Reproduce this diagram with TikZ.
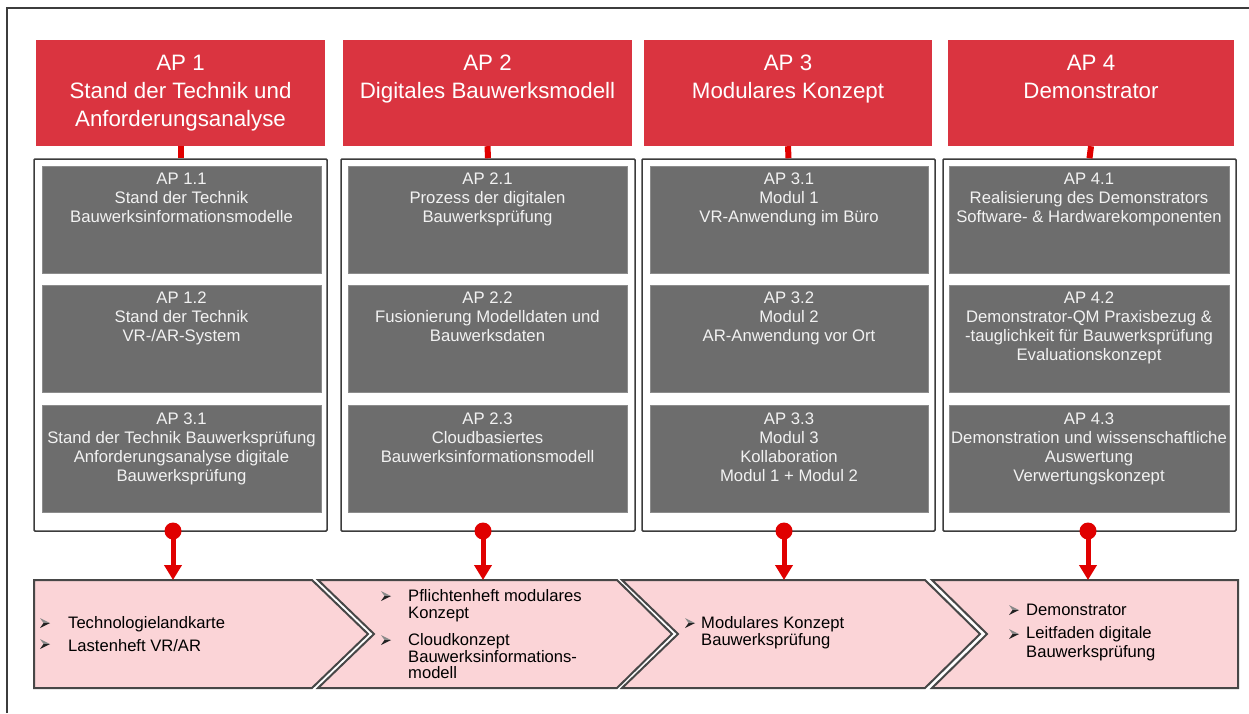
\documentclass[tikz,border=0pt]{standalone}
\usepackage{fontspec}
\setmainfont{Liberation Sans}
\usetikzlibrary{arrows.meta}
\definecolor{hdrred}{HTML}{DA3440}
\definecolor{conred}{HTML}{E00000}
\definecolor{boxgray}{HTML}{6D6D6D}
\definecolor{boxedge}{HTML}{8C8C8C}
\definecolor{frame}{HTML}{3C3C3C}
\definecolor{pinkfill}{HTML}{FBD4D7}
\definecolor{chevedge}{HTML}{474747}
\definecolor{bullight}{HTML}{8A8A8A}
\definecolor{buldark}{HTML}{222222}
\begin{document}
\begin{tikzpicture}[x=1pt,y=-1pt,
  hdr/.style={fill=hdrred, draw=none, minimum width=#1, minimum height=106pt, inner sep=0pt},
  hdrtxt/.style={text=white, font=\fontsize{22.3}{28}\selectfont, align=center, inner sep=0pt, anchor=north},
  colbox/.style={fill=white, draw=frame, line width=1.5pt, rounded corners=1pt, minimum width=#1, minimum height=372pt, inner sep=0pt},
  gbox/.style={fill=boxgray, draw=boxedge, line width=0.8pt, minimum width=#1, minimum height=107pt, inner sep=0pt},
  gtxt/.style={text=white!95!black, font=\fontsize{16.7}{19}\selectfont, align=center, inner sep=0pt, anchor=north},
  topbar/.style={draw=conred, line width=6pt},
  dot/.style={circle, fill=conred, minimum size=17pt, inner sep=0pt},
  redarrow/.style={draw=conred, line width=5pt, -{Triangle[width=17pt,length=15pt]}, shorten <=-2pt},
  chev/.style={fill=pinkfill, draw=chevedge, line width=2pt, line join=miter},
  btxt/.style={font=\fontsize{16.6}{17}\selectfont, anchor=base west, inner sep=0pt, text=black},
  bulletpic/.pic={
    \fill[bullight] (-5,-5) -- (5,0) -- (-1.5,0) -- cycle;
    \fill[buldark] (-1.5,0) -- (5,0) -- (-5,5) -- cycle;
  }
]
\useasboundingbox (0,0) rectangle (1249,713);
\fill[white] (0,0) rectangle (1249,713);
% outer frame
\coordinate (fbl) at (7,713);
\coordinate (ftl) at (7,8);
\coordinate (ftr) at (1249,8);
\draw[frame, line width=1.5pt] (fbl) -- (ftl) -- (ftr);

% headers
\node[hdr=289pt] (h1) at (180.5,93) {};
\node[hdr=289pt] (h2) at (487.5,93) {};
\node[hdr=288pt] (h3) at (788,93) {};
\node[hdr=286pt] (h4) at (1091,93) {};
\node[hdrtxt] (h1t) at ([yshift=-15pt]h1.north) {AP 1\\Stand der Technik und\\Anforderungsanalyse};
\node[hdrtxt] (h2t) at ([yshift=-15pt]h2.north) {AP 2\\Digitales Bauwerksmodell};
\node[hdrtxt] (h3t) at ([yshift=-15pt]h3.north) {AP 3\\Modulares Konzept};
\node[hdrtxt] (h4t) at ([yshift=-15pt]h4.north) {AP 4\\Demonstrator};

% columns
\node[colbox=293pt] (c1) at (180.5,345) {};
\node[colbox=294pt] (c2) at (488,345) {};
\node[colbox=293pt] (c3) at (788.5,345) {};
\node[colbox=293pt] (c4) at (1089.5,345) {};

% top connectors
\draw[topbar] (h1.south) -- (c1.north);
\draw[topbar] (h2.south) -- (c2.north);
\draw[topbar] (h3.south) -- (c3.north);
\draw[topbar] (h4.south) -- (c4.north);

% gray boxes column 1
\node[gbox=279pt] (b11) at (181.5,219.5) {};
\node[gbox=279pt] (b12) at (181.5,339) {};
\node[gbox=279pt] (b13) at (181.5,459) {};
\node[gtxt] at ([yshift=-7pt]b11.north) {AP 1.1\\Stand der Technik\\Bauwerksinformationsmodelle};
\node[gtxt] at ([yshift=-7pt]b12.north) {AP 1.2\\Stand der Technik\\VR-/AR-System};
\node[gtxt] at ([yshift=-8pt]b13.north) {AP 3.1\\Stand der Technik Bauwerksprüfung\\Anforderungsanalyse digitale\\Bauwerksprüfung};
% column 2
\node[gbox=279pt] (b21) at (487.5,219.5) {};
\node[gbox=279pt] (b22) at (487.5,339) {};
\node[gbox=279pt] (b23) at (487.5,459) {};
\node[gtxt] at ([yshift=-7pt]b21.north) {AP 2.1\\Prozess der digitalen\\Bauwerksprüfung};
\node[gtxt] at ([yshift=-7pt]b22.north) {AP 2.2\\Fusionierung Modelldaten und\\Bauwerksdaten};
\node[gtxt] at ([yshift=-8pt]b23.north) {AP 2.3\\Cloudbasiertes\\Bauwerksinformationsmodell};
% column 3
\node[gbox=278pt] (b31) at (789,219.5) {};
\node[gbox=278pt] (b32) at (789,339) {};
\node[gbox=278pt] (b33) at (789,459) {};
\node[gtxt] at ([yshift=-7pt]b31.north) {AP 3.1\\Modul 1\\VR-Anwendung im Büro};
\node[gtxt] at ([yshift=-7pt]b32.north) {AP 3.2\\Modul 2\\AR-Anwendung vor Ort};
\node[gtxt] at ([yshift=-8pt]b33.north) {AP 3.3\\Modul 3\\Kollaboration\\Modul 1 + Modul 2};
% column 4
\node[gbox=280pt] (b41) at (1089,219.5) {};
\node[gbox=280pt] (b42) at (1089,339) {};
\node[gbox=280pt] (b43) at (1089,459) {};
\node[gtxt] at ([yshift=-7pt]b41.north) {AP 4.1\\Realisierung des Demonstrators\\Software- \& Hardwarekomponenten};
\node[gtxt] at ([yshift=-7pt]b42.north) {AP 4.2\\Demonstrator-QM Praxisbezug \&\\-tauglichkeit für Bauwerksprüfung\\Evaluationskonzept};
\node[gtxt] at ([yshift=-8pt]b43.north) {AP 4.3\\Demonstration und wissenschaftliche\\Auswertung\\Verwertungskonzept};

% chevrons
\draw[chev] (34,580) -- (312,580) -- (368,634) -- (312,688) -- (34,688) -- cycle;
\draw[chev] (318,580) -- (617,580) -- (672,634) -- (617,688) -- (318,688) -- (374,634) -- cycle;
\draw[chev] (622,580) -- (925,580) -- (980,634) -- (925,688) -- (622,688) -- (678,634) -- cycle;
\draw[chev] (932,580) -- (1238,580) -- (1238,688) -- (932,688) -- (987,634) -- cycle;

% bottom connectors
\coordinate (t1) at (173,580);
\coordinate (t2) at (483,580);
\coordinate (t3) at (784,580);
\coordinate (t4) at (1088,580);
\node[dot] (d1) at (173,531) {};
\node[dot] (d2) at (483,531) {};
\node[dot] (d3) at (784,531) {};
\node[dot] (d4) at (1088,531) {};
\draw[redarrow] (d1.center) -- (t1);
\draw[redarrow] (d2.center) -- (t2);
\draw[redarrow] (d3.center) -- (t3);
\draw[redarrow] (d4.center) -- (t4);

% chevron 1 text
\pic at (45,623) {bulletpic};
\pic at (45,644) {bulletpic};
\node[btxt] (x11) at (68,628) {Technologielandkarte};
\node[btxt] (x12) at (68,651) {Lastenheft VR/AR};
% chevron 2 text
\pic at (386,596) {bulletpic};
\pic at (386,640) {bulletpic};
\node[btxt] (x21) at (408,601) {Pflichtenheft modulares};
\node[btxt] (x22) at (408,618) {Konzept};
\node[btxt] (x23) at (408,645) {Cloudkonzept};
\node[btxt] (x24) at (408,662) {Bauwerksinformations-};
\node[btxt] (x25) at (408,678) {modell};
% chevron 3 text
\pic at (690,623) {bulletpic};
\node[btxt] (x31) at (701,628) {Modulares Konzept};
\node[btxt] (x32) at (701,645) {Bauwerksprüfung};
% chevron 4 text
\pic at (1014,610) {bulletpic};
\pic at (1014,634) {bulletpic};
\node[btxt] (x41) at (1026,615) {Demonstrator};
\node[btxt] (x42) at (1026,638) {Leitfaden digitale};
\node[btxt] (x43) at (1026,657) {Bauwerksprüfung};
\end{tikzpicture}
\end{document}
